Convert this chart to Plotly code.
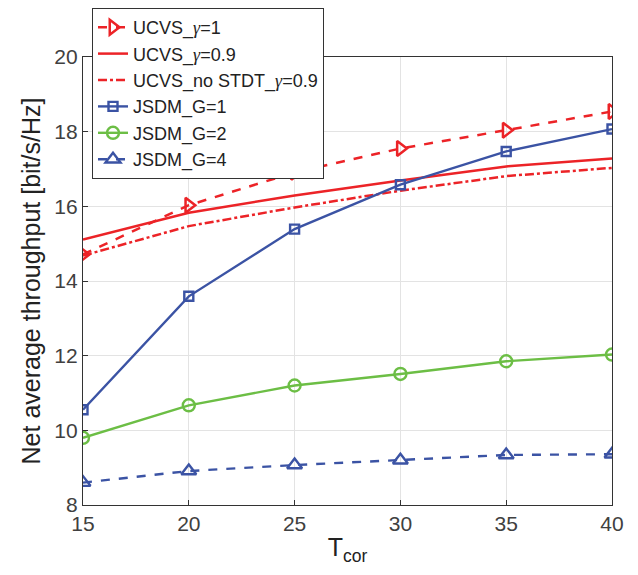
import plotly.graph_objects as go

t_cor = [15, 20, 25, 30, 35, 40]
ucvs_g1 = [14.71, 16.03, 16.91, 17.55, 18.04, 18.54]
ucvs_g09 = [15.11, 15.83, 16.29, 16.69, 17.07, 17.28]
ucvs_nostdt = [14.68, 15.47, 15.97, 16.42, 16.81, 17.03]
jsdm_g1 = [10.55, 13.59, 15.39, 16.58, 17.47, 18.07]
jsdm_g2 = [9.80, 10.67, 11.20, 11.51, 11.85, 12.03]
jsdm_g4 = [8.60, 8.91, 9.07, 9.20, 9.34, 9.36]

x_ticks = [15, 20, 25, 30, 35, 40]
y_ticks = [8, 10, 12, 14, 16, 18, 20]

RED = "#EC2327"
BLUE = "#3B53A4"
GREEN = "#6CBE45"

GAM = "<i><span style=\"font-family:'Liberation Serif'\">γ</span></i>"

fig = go.Figure()
fig.add_trace(go.Scatter(x=t_cor, y=ucvs_g1, name="UCVS_" + GAM + "=1", mode="lines+markers",
                         line=dict(color=RED, width=2.5, dash="dash"),
                         marker=dict(symbol="triangle-right-open", size=13, color=RED, line=dict(width=2.5))))
fig.add_trace(go.Scatter(x=t_cor, y=ucvs_g09, name="UCVS_" + GAM + "=0.9", mode="lines",
                         line=dict(color=RED, width=2.5)))
fig.add_trace(go.Scatter(x=t_cor, y=ucvs_nostdt, name="UCVS_no STDT_" + GAM + "=0.9", mode="lines",
                         line=dict(color=RED, width=2.5, dash="dashdot")))
fig.add_trace(go.Scatter(x=t_cor, y=jsdm_g1, name="JSDM_G=1", mode="lines+markers",
                         line=dict(color=BLUE, width=2.4),
                         marker=dict(symbol="square-open", size=9, color=BLUE, line=dict(width=2.4))))
fig.add_trace(go.Scatter(x=t_cor, y=jsdm_g2, name="JSDM_G=2", mode="lines+markers",
                         line=dict(color=GREEN, width=2.4),
                         marker=dict(symbol="circle-open", size=12, color=GREEN, line=dict(width=2.4))))
fig.add_trace(go.Scatter(x=t_cor, y=jsdm_g4, name="JSDM_G=4", mode="lines+markers",
                         line=dict(color=BLUE, width=2.4, dash="dash"),
                         marker=dict(symbol="triangle-up-open", size=13, color=BLUE, line=dict(width=2.4))))

axis_common = dict(showline=True, linecolor="#333333", linewidth=1.2, mirror=True,
                   showgrid=True, gridcolor="#E3E3E3", gridwidth=1,
                   ticks="inside", ticklen=5, tickcolor="#333333",
                   tickfont=dict(size=21, color="#404040"), zeroline=False,
                   automargin=False)

fig.update_layout(
    width=630, height=567,
    margin=dict(l=75, r=26, t=49, b=70, autoexpand=False),
    paper_bgcolor="white", plot_bgcolor="white",
    font=dict(family="Liberation Sans, Arial, sans-serif", color="#222222"),
    xaxis=dict(range=[15, 40], tickvals=x_ticks,
               title=dict(text="T<sub>cor</sub>", font=dict(size=25, color="#222222"), standoff=4),
               **axis_common),
    yaxis=dict(range=[8, 20], tickvals=y_ticks,
               title=dict(text="Net average throughput [bit/s/Hz]", font=dict(size=25, color="#222222"), standoff=6),
               **axis_common),
    legend=dict(x=(92 - 83) / 529, y=(505 - 8) / 448,
                xanchor="left", yanchor="top",
                bgcolor="white", bordercolor="#333333", borderwidth=1,
                font=dict(size=18, color="#222222"), tracegroupgap=0,
                itemwidth=30),
    showlegend=True,
)

fig.write_html("out.html")
